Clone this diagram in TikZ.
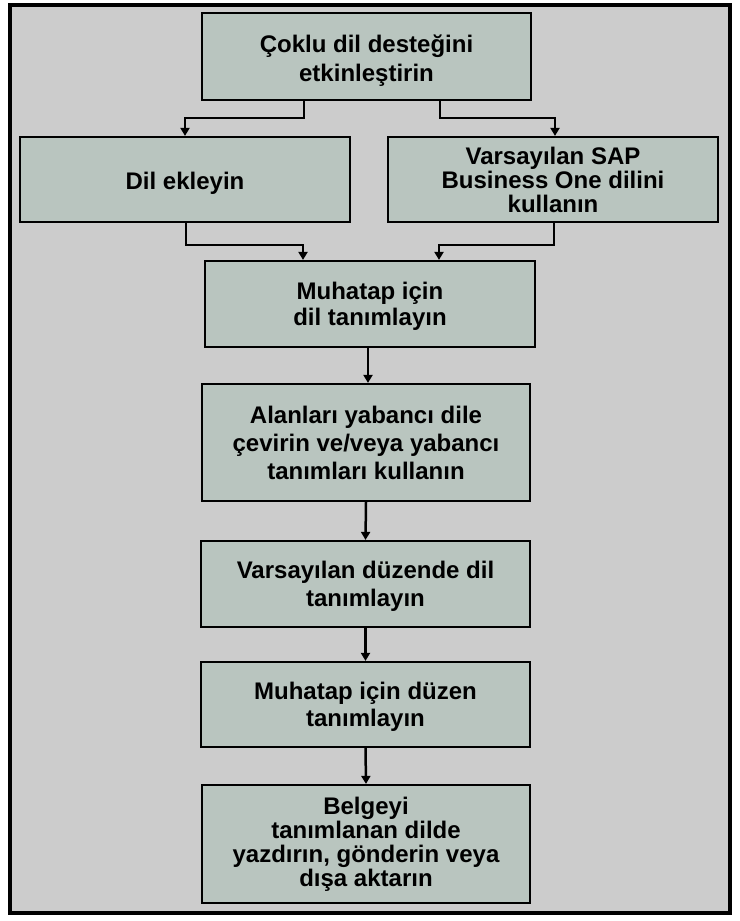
\documentclass[tikz,border=0pt]{standalone}
\usepackage{fontspec}
\setmainfont{Liberation Sans}
\usetikzlibrary{arrows.meta,positioning,calc}
\definecolor{bgray}{RGB}{204,204,204}
\definecolor{boxfill}{RGB}{185,197,191}
\newcommand{\tstr}[1]{\rule{0pt}{#1}}
\begin{document}
\begin{tikzpicture}[x=1pt,y=-1pt,
  stepbox/.style={draw=black,line width=2.2pt,fill=boxfill,inner sep=0pt,
    align=center,font=\fontsize{24}{28}\selectfont\bfseries},
  arr/.style={line width=2.5pt,-{Triangle[width=9pt,length=8pt]}}]
\useasboundingbox (0,0) rectangle (739,921);
\fill[white] (0,0) rectangle (739,921);
\draw[line width=4pt,fill=bgray] (10,4.5) rectangle (730,913);
\node[stepbox,minimum width=329pt,minimum height=87pt,font=\fontsize{24}{29}\selectfont\bfseries] (top) at (366.5,56.5) {\tstr{25pt}Çoklu dil desteğini\\etkinleştirin};
\node[stepbox,minimum width=330pt,minimum height=85pt] (left) at (185,179.5) {\tstr{25pt}Dil ekleyin};
\node[stepbox,minimum width=330pt,minimum height=85pt,font=\fontsize{24}{24}\selectfont\bfseries] (right) at (553,179.5) {Varsayılan SAP\\Business One dilini\\kullanın};
\node[stepbox,minimum width=330pt,minimum height=86pt,font=\fontsize{24}{26.5}\selectfont\bfseries] (muh) at (370,304) {\tstr{22pt}Muhatap için\\dil tanımlayın};
\node[stepbox,minimum width=328pt,minimum height=117pt] (alan) at (366,442.5) {Alanları yabancı dile\\çevirin ve/veya yabancı\\tanımları kullanın};
\node[stepbox,minimum width=329pt,minimum height=86pt] (vars) at (365.5,584) {\tstr{22pt}Varsayılan düzende dil\\tanımlayın};
\node[stepbox,minimum width=329pt,minimum height=85pt,font=\fontsize{24}{27.5}\selectfont\bfseries] (duz) at (365.5,704.5) {\tstr{22pt}Muhatap için düzen\\tanımlayın};
\node[stepbox,minimum width=328pt,minimum height=118pt,font=\fontsize{24}{24}\selectfont\bfseries] (belge) at (366,844) {Belgeyi\\tanımlanan dilde\\yazdırın, gönderin veya\\dışa aktarın};
\draw[arr] ([xshift=-62.5pt]top.south) -- ++(0,17) -| (left.north);
\draw[arr] ([xshift=73.5pt]top.south) -- ++(0,17) -| ([xshift=2pt]right.north);
\draw[arr] ([xshift=1pt]left.south) -- ++(0,22) -| ([xshift=-67pt]muh.north);
\draw[arr] ([xshift=1pt]right.south) -- ++(0,22) -| ([xshift=69pt]muh.north);
\draw[arr] ([xshift=-2pt]muh.south) -- ([xshift=2pt]alan.north);
\draw[arr] (alan.south) -- (vars.north);
\draw[arr] (vars.south) -- (duz.north);
\draw[arr] (duz.south) -- (belge.north);
\end{tikzpicture}
\end{document}
